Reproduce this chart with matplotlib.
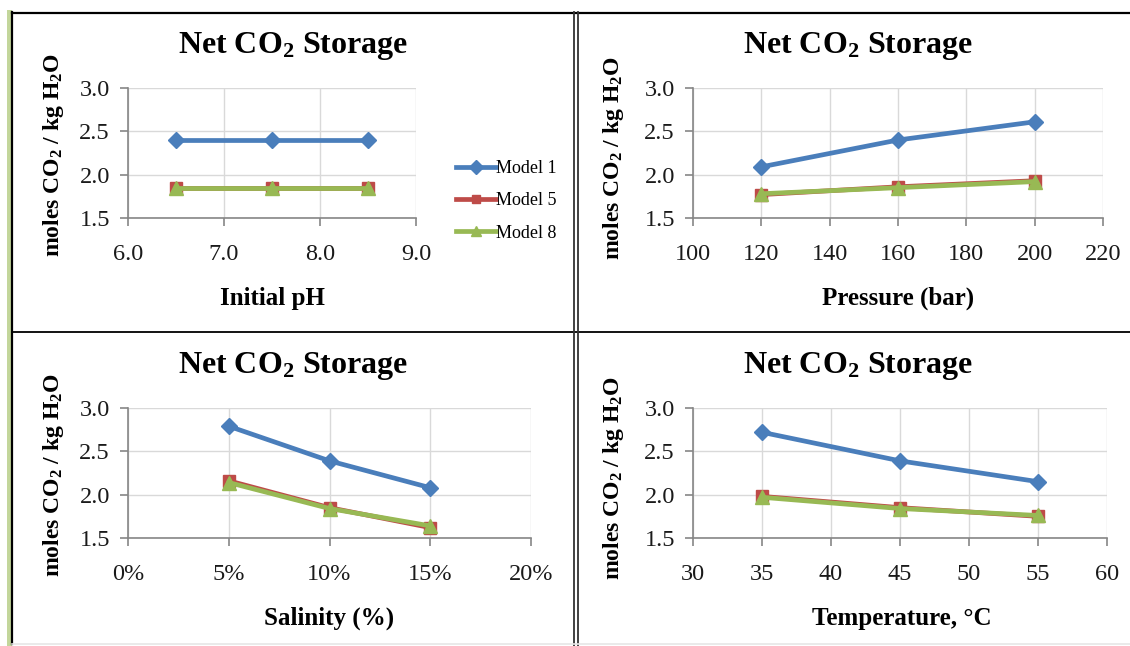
import matplotlib
matplotlib.use("Agg")
import matplotlib.pyplot as plt
from matplotlib.lines import Line2D
from matplotlib.ticker import FuncFormatter
import numpy as np

plt.rcParams['font.family'] = ['Liberation Serif', 'DejaVu Serif']
plt.rcParams['mathtext.fontset'] = 'custom'
plt.rcParams['mathtext.rm'] = 'Liberation Serif:bold'
plt.rcParams['mathtext.it'] = 'Liberation Serif:bold'
plt.rcParams['mathtext.bf'] = 'Liberation Serif:bold'

# ---- data ----
series_names = ["Model 1", "Model 5", "Model 8"]

ph = [6.5, 7.5, 8.5]
ph_m1 = [2.40, 2.40, 2.40]
ph_m5 = [1.85, 1.85, 1.85]
ph_m8 = [1.85, 1.85, 1.85]

pressure = [120, 160, 200]
pr_m1 = [2.09, 2.40, 2.61]
pr_m5 = [1.77, 1.86, 1.93]
pr_m8 = [1.78, 1.85, 1.92]

salinity = [0.05, 0.10, 0.15]
sa_m1 = [2.79, 2.39, 2.08]
sa_m5 = [2.16, 1.85, 1.62]
sa_m8 = [2.14, 1.84, 1.64]

temperature = [35, 45, 55]
te_m1 = [2.72, 2.39, 2.15]
te_m5 = [1.98, 1.85, 1.75]
te_m8 = [1.97, 1.84, 1.76]

y_ticks = [1.5, 2.0, 2.5, 3.0]
ph_ticks = [6.0, 7.0, 8.0, 9.0]
pr_ticks = [100, 120, 140, 160, 180, 200, 220]
sa_ticks = [0.0, 0.05, 0.10, 0.15, 0.20]
te_ticks = [30, 35, 40, 45, 50, 55, 60]

colors = ["#4A7EBB", "#BE4B48", "#98B954"]
markers = ["D", "s", "^"]
msizes = [8.5, 8, 9.5]

W, H = 1130, 646
fig = plt.figure(figsize=(W / 100, H / 100), dpi=100)
fig.patch.set_facecolor("white")

def px(x0, y0, x1, y1):
    return [x0 / W, 1 - y1 / H, (x1 - x0) / W, (y1 - y0) / H]

panels = [
    dict(rect=px(128, 88, 416, 218), x=ph, ys=[ph_m1, ph_m5, ph_m8], ticks=ph_ticks,
         fmt=lambda v, p: f"{v:.1f}", xlabel="Initial pH", tc=(293, 46), yc=(53, 155), xc=(272, 298)),
    dict(rect=px(693, 88, 1103, 218), x=pressure, ys=[pr_m1, pr_m5, pr_m8], ticks=pr_ticks,
         fmt=lambda v, p: f"{v:.0f}", xlabel="Pressure (bar)", tc=(858, 46), yc=(613, 158), xc=(898, 298)),
    dict(rect=px(128, 408, 531, 538), x=salinity, ys=[sa_m1, sa_m5, sa_m8], ticks=sa_ticks,
         fmt=lambda v, p: f"{v*100:.0f}%", xlabel="Salinity (%)", tc=(293, 366), yc=(53, 475), xc=(329, 618)),
    dict(rect=px(693, 408, 1107, 538), x=temperature, ys=[te_m1, te_m5, te_m8], ticks=te_ticks,
         fmt=lambda v, p: f"{v:.0f}", xlabel="Temperature, \u00b0C", tc=(858, 366), yc=(613, 478), xc=(902, 618)),
]

handles = None
for pn in panels:
    ax = fig.add_axes(pn["rect"])
    hs = []
    for ys, c, m, ms, name in zip(pn["ys"], colors, markers, msizes, series_names):
        h, = ax.plot(pn["x"], ys, color=c, lw=3.4, marker=m, markersize=ms,
                     markerfacecolor=c, markeredgecolor=c, label=name, zorder=3,
                     clip_on=False)
        hs.append(h)
    if handles is None:
        handles = hs
    ax.set_xlim(pn["ticks"][0], pn["ticks"][-1])
    ax.set_ylim(1.5, 3.0)
    ax.set_xticks(pn["ticks"])
    ax.set_yticks(y_ticks)
    ax.xaxis.set_major_formatter(FuncFormatter(pn["fmt"]))
    ax.yaxis.set_major_formatter(FuncFormatter(lambda v, p: f"{v:.1f}"))
    ax.grid(True, color="#D9D9D9", lw=1, zorder=0)
    ax.set_axisbelow(True)
    for s in ["top", "right"]:
        ax.spines[s].set_visible(False)
    for s in ["left", "bottom"]:
        ax.spines[s].set_color("#868686")
        ax.spines[s].set_linewidth(1.2)
    ax.tick_params(axis="both", direction="out", length=6, width=1.2, color="#868686",
                   labelsize=17.5, labelcolor="#1a1a1a")
    ax.tick_params(axis="x", pad=13)
    ax.tick_params(axis="y", pad=7)
    tx, ty = pn["tc"]
    fig.text(tx / W, 1 - ty / H, "Net CO$_2$ Storage", ha="center", va="center",
             fontsize=23, fontweight="bold")
    yx, yy = pn["yc"]
    fig.text(yx / W, 1 - yy / H, "moles CO$_2$ / kg H$_2$O", ha="center", va="center",
             rotation=90, fontsize=17, fontweight="bold")
    xx, xy = pn["xc"]
    fig.text(xx / W, 1 - xy / H, pn["xlabel"], ha="center", va="center",
             fontsize=18, fontweight="bold")

fig.legend(handles=handles, labels=series_names, loc="upper left",
           bbox_to_anchor=(456 / W, 1 - 160 / H), frameon=False, fontsize=13,
           handlelength=2.2, handletextpad=0.0, labelspacing=0.85, borderpad=0,
           borderaxespad=0, markerscale=0.8)

# ---- frame lines ----
def fline(xs, ys, **kw):
    fig.add_artist(Line2D([x / W for x in xs], [1 - y / H for y in ys],
                          transform=fig.transFigure, **kw))

fline([8.5, 8.5], [12, 646], color="#C3D69B", lw=3.6)
fline([11.5, 1130], [12.5, 12.5], color="black", lw=1.6)
fline([11.5, 11.5], [12, 644], color="black", lw=1.6)
fline([12, 1130], [332.5, 332.5], color="black", lw=1.3)
fline([574, 574], [12, 646], color="#333333", lw=1.3)
fline([578, 578], [12, 646], color="#333333", lw=1.3)
fline([12, 1130], [643.5, 643.5], color="#E6E6E6", lw=1.2)

fig.savefig("out.png", dpi=100, facecolor="white")
